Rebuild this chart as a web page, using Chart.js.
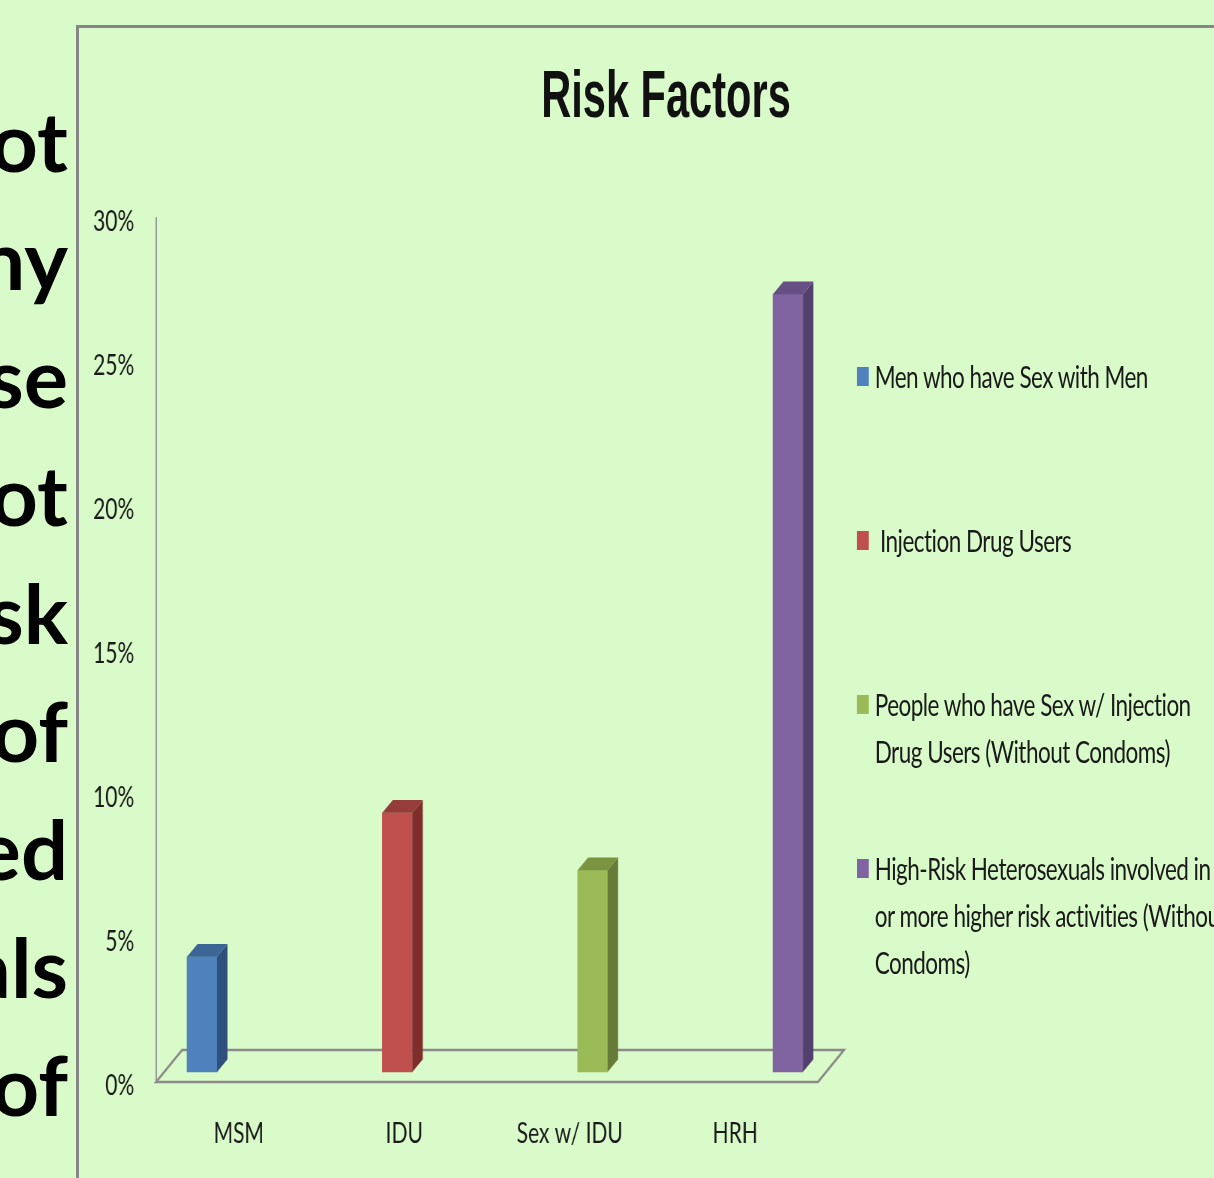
<!DOCTYPE html>
<html>
<head>
<meta charset="utf-8">
<script src="https://cdn.jsdelivr.net/npm/chart.js@4.4.0/dist/chart.umd.min.js"></script>
<style>
  html, body { margin: 0; padding: 0; }
  body { width: 1214px; height: 1178px; overflow: hidden; background: #d9fac9; position: relative; font-family: Lato, sans-serif; }
  #side { position: absolute; left: -232px; top: 81px; width: 300px; text-align: right; font: 700 83px/118px Lato, sans-serif; color: #000; white-space: nowrap; }
  #frame { position: absolute; left: 76px; top: 25px; width: 1300px; height: 1300px; border-top: 3px solid #868686; border-left: 3px solid #868686; }
  #title { position: absolute; left: 366px; top: 54px; width: 600px; text-align: center; font: bold 66px/80px "Liberation Sans", Arial, sans-serif; color: #111; transform: scaleX(0.63); }
  #wrap { position: absolute; left: 79px; top: 28px; width: 1568px; height: 1150px; transform: scaleX(0.75); transform-origin: 0 0; }
  #wrap canvas { display: block; }
  .item { position: absolute; left: 1037px; font: 30px/47px Lato, sans-serif; letter-spacing: -0.7px; color: #1a1a1a; white-space: pre; }
  .item .box { position: absolute; left: 0; top: 14px; width: 16px; height: 19px; }
  .item .txt { position: absolute; left: 24px; top: 0; }
</style>
</head>
<body>
<div id="side"><div>ot</div><div>ny</div><div>se</div><div>ot</div><div>sk</div><div>of</div><div>ed</div><div>als</div><div>of</div></div>
<div id="frame"></div>
<div id="title">Risk Factors</div>
<div id="wrap">
  <canvas id="riskChart" width="1568" height="1150"></canvas>
  <div id="legend"></div>
</div>
<script>
const categories = ['MSM', 'IDU', 'Sex w/ IDU', 'HRH'];
const legendNames = [
  'Men who have Sex with Men',
  ' Injection Drug Users',
  'People who have Sex w/ Injection\nDrug Users (Without Condoms)',
  'High-Risk Heterosexuals involved in one\nor more higher risk activities (Without\nCondoms)'
];
const riskShare = [4, 9, 7, 27];
const yTicks = [0, 5, 10, 15, 20, 25, 30];

const frontColors = ['#4f81bd', '#c0504d', '#9bbb59', '#8064a2'];
const sideColors = ['#30507c', '#7f2e2c', '#667b37', '#52406c'];
const topColors = ['#3d6696', '#953d3b', '#7a9442', '#654f84'];

// 3d look: floor plane and bar depth faces
const floorPlugin = {
  id: 'floor3d',
  beforeDatasetsDraw(chart) {
    const { ctx, chartArea: a } = chart;
    const dx = 34.7, dy = -32;
    ctx.save();
    ctx.strokeStyle = '#8a8a8a';
    ctx.lineWidth = 2.5;
    ctx.beginPath();
    ctx.moveTo(a.left, a.bottom);
    ctx.lineTo(a.right, a.bottom);
    ctx.lineTo(a.right + dx, a.bottom + dy);
    ctx.lineTo(a.left + dx, a.bottom + dy);
    ctx.closePath();
    ctx.stroke();
    ctx.restore();
  },
  afterDatasetsDraw(chart) {
    const { ctx } = chart;
    const dx = 14, dy = -12.7;
    const meta = chart.getDatasetMeta(0);
    ctx.save();
    meta.data.forEach((bar, i) => {
      const { x, y, base, width } = bar.getProps(['x', 'y', 'base', 'width'], true);
      const l = x - width / 2, r = x + width / 2;
      ctx.fillStyle = sideColors[i];
      ctx.beginPath();
      ctx.moveTo(r, y);
      ctx.lineTo(r + dx, y + dy);
      ctx.lineTo(r + dx, base + dy);
      ctx.lineTo(r, base);
      ctx.closePath();
      ctx.fill();
      ctx.fillStyle = topColors[i];
      ctx.beginPath();
      ctx.moveTo(l, y);
      ctx.lineTo(l + dx, y + dy);
      ctx.lineTo(r + dx, y + dy);
      ctx.lineTo(r, y);
      ctx.closePath();
      ctx.fill();
    });
    ctx.restore();
  }
};

const ctx = document.getElementById('riskChart').getContext('2d');

const chart = new Chart(ctx, {
  type: 'bar',
  data: {
    labels: categories,
    datasets: [{
      label: 'Risk Factors',
      data: riskShare.map((v, i) => ({ x: i, y: v })),
      backgroundColor: frontColors,
      borderWidth: 0,
      barThickness: 40,
      xAxisID: 'xb',
      yAxisID: 'yb'
    }]
  },
  options: {
    responsive: false,
    animation: false,
    layout: { padding: { left: 2.7, right: 582.7, top: 190, bottom: 6 } },
    plugins: {
      legend: { display: false },
      tooltip: { enabled: false },
      title: { display: false }
    },
    scales: {
      x: {
        type: 'category',
        offset: true,
        grid: { display: false },
        border: { display: false },
        ticks: { color: '#1a1a1a', font: { family: 'Lato', size: 28 }, padding: 27, maxRotation: 0 },
        afterFit: s => { s.height = 90; }
      },
      y: {
        min: yTicks[0],
        max: yTicks[yTicks.length - 1],
        afterBuildTicks: s => { s.ticks = yTicks.map(v => ({ value: v })); },
        grid: { display: false, drawTicks: false },
        border: { display: true, color: '#9a9a9a', width: 2 },
        ticks: { color: '#1a1a1a', font: { family: 'Lato', size: 28 }, padding: 29, labelOffset: 4, callback: v => v + '%' },
        afterFit: s => { s.width = 100; }
      },
      xb: { type: 'linear', display: false, offset: false, grid: { offset: false }, min: -0.2354, max: 3.154 },
      yb: { type: 'linear', display: false, min: -0.35, max: 29.65 }
    }
  },
  plugins: [floorPlugin]
});

// legend built from the same arrays
const legend = document.getElementById('legend');
legendNames.forEach((name, i) => {
  const item = document.createElement('div');
  item.className = 'item';
  item.style.top = (325 + i * 164) + 'px';
  item.innerHTML = '<span class="box" style="background:' + frontColors[i] + '"></span><span class="txt"></span>';
  item.querySelector('.txt').textContent = name;
  legend.appendChild(item);
});
</script>
</body>
</html>
